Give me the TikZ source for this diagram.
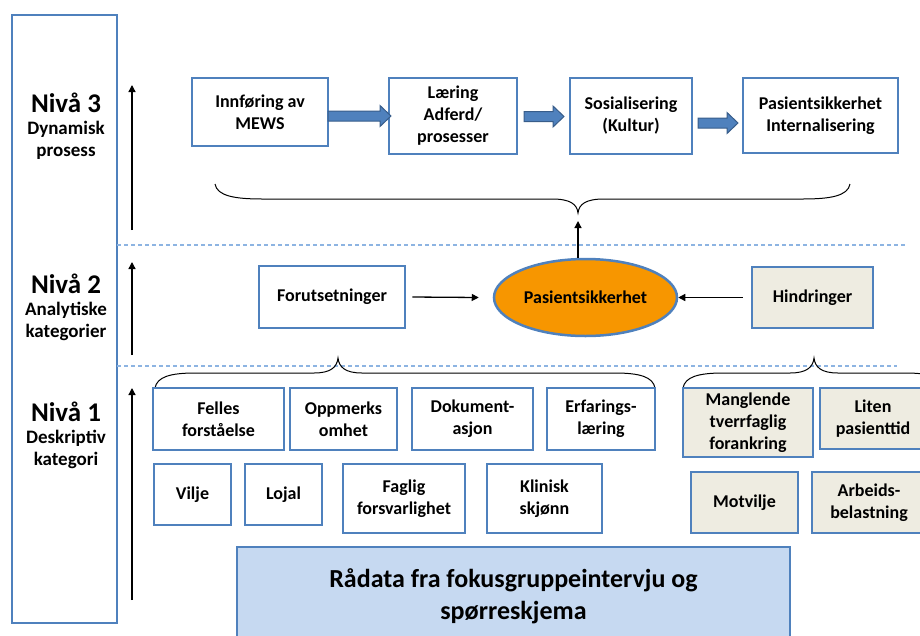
\documentclass[tikz,border=0pt]{standalone}
\usepackage{fontspec}
\setmainfont{Carlito}
\usetikzlibrary{shapes.geometric,arrows.meta,calc}
\definecolor{frame}{RGB}{79,129,189}
\definecolor{arrowfill}{RGB}{79,129,189}
\definecolor{arrowedge}{RGB}{56,93,138}
\definecolor{guide}{RGB}{141,180,226}
\definecolor{tanfill}{RGB}{238,236,225}
\definecolor{core}{RGB}{247,150,0}
\definecolor{rawfill}{RGB}{198,217,241}
\begin{document}
\begin{tikzpicture}[x=1pt,y=-1pt,
  box/.style={draw=frame, line width=2.5pt, fill=white, align=center, inner sep=2pt,
    font=\bfseries\fontsize{18}{22}\selectfont},
  obstacle/.style={box, fill=tanfill},
  arr/.style={line width=1.3pt, -{Triangle[length=7pt,width=7pt]}},
  brace/.style={line width=1pt},
  guideline/.style={draw=guide, line width=1.2pt, dash pattern=on 4pt off 3pt},
  blk/.style={draw=arrowedge, fill=arrowfill, line width=1pt, line join=miter},
  lvl/.style={align=center, font=\bfseries\fontsize{19}{22}\selectfont}]
\useasboundingbox (0,0) rectangle (920,635);
\clip (0,0) rectangle (920,635);

% level column
\node[draw=frame, line width=2.5pt, minimum width=105pt, minimum height=608pt, inner sep=0pt] (col) at (64.5,319) {};
\node[lvl] (n3) at (66,126) {{\fontsize{27}{27}\selectfont Nivå 3}\\[0pt]Dynamisk\\prosess};
\node[lvl] (n2) at (66,307) {{\fontsize{27}{27}\selectfont Nivå 2}\\[0pt]Analytiske\\kategorier};
\node[lvl] (n1) at (66,435) {{\fontsize{27}{27}\selectfont Nivå 1}\\[0pt]Deskriptiv\\kategori};

% level separators
\coordinate (s2a) at (117,245); \coordinate (s2b) at (905,245);
\coordinate (s1a) at (117,366); \coordinate (s1b) at (897,366);
\draw[guideline] (s2a) -- (s2b);
\draw[guideline] (s1a) -- (s1b);

% upward arrows beside the column
\coordinate (u3a) at (132,230); \coordinate (u3b) at (132,85);
\coordinate (u2a) at (132,355); \coordinate (u2b) at (132,262);
\coordinate (u1a) at (132,600); \coordinate (u1b) at (132,388);
\draw[arr] (u3a) -- (u3b);
\draw[arr] (u2a) -- (u2b);
\draw[arr] (u1a) -- (u1b);

% level 3: dynamic process
\node[box, minimum width=136pt, minimum height=68pt] (b1) at (260,112) {Innføring av\\MEWS};
\node[box, minimum width=128pt, minimum height=76pt] (b2) at (453,116) {Læring\\Adferd/\\prosesser};
\node[box, minimum width=122pt, minimum height=76pt] (b3) at (631,116) {Sosialisering\\(Kultur)};
\node[box, minimum width=155pt, minimum height=75pt] (b4) at (820.5,115.5) {Pasientsikkerhet\\Internalisering};
\foreach \xs/\xe/\yy in {328/391/116, 524/564/116.5, 698/738/123}{
  \draw[blk] (\xs,{\yy-5}) -- ({\xe-11},{\yy-5}) -- ({\xe-11},{\yy-10.5}) -- (\xe,\yy)
    -- ({\xe-11},{\yy+10.5}) -- ({\xe-11},{\yy+5}) -- (\xs,{\yy+5}) -- cycle;
}

% brace gathering level 3
\coordinate (tip3) at (578,213);
\draw[brace] (215,184) .. controls (217,196) and (235,199) .. (262,199) -- (552,199)
  .. controls (570,199) and (577,204) .. (tip3)
  .. controls (579,204) and (586,199) .. (604,199) -- (803,199)
  .. controls (830,199) and (848,196) .. (850,184);

% level 2
\node[box, minimum width=146pt, minimum height=62pt] (fo) at (332,297) {Forutsetninger};
\node[ellipse, draw=frame, line width=2.5pt, fill=core, minimum width=183pt, minimum height=77pt,
  inner sep=0pt, font=\bfseries\fontsize{18}{22}\selectfont] (ell) at (585.5,297.5) {Pasientsikkerhet};
\node[obstacle, minimum width=121pt, minimum height=61pt] (hi) at (812.5,297.5) {Hindringer};
\coordinate (up) at (578,221);
\draw[arr] (ell.north -| up) -- (up);
\draw[arr] ([xshift=6pt]fo.east) -- ([xshift=-14pt]ell.west);
\draw[arr] ([xshift=-8pt]hi.west) -- (ell.east);

% braces under level 2
\coordinate (tipf) at (338,358);
\draw[brace] (155,388) .. controls (157,377) and (170,373) .. (195,373) -- (314,373)
  .. controls (331,373) and (337,367) .. (tipf)
  .. controls (339,367) and (345,373) .. (362,373) -- (615,373)
  .. controls (640,373) and (653,377) .. (655,388);
\coordinate (tiph) at (814,358);
\draw[brace] (683,388) .. controls (685,377) and (698,373) .. (723,373) -- (790,373)
  .. controls (807,373) and (813,367) .. (tiph)
  .. controls (815,367) and (821,373) .. (838,373) -- (905,373)
  .. controls (930,373) and (943,377) .. (945,388);

% level 1: prerequisites
\node[box, minimum width=131pt, minimum height=62pt] (f1) at (218.5,419) {Felles\\forståelse};
\node[box, minimum width=107pt, minimum height=62pt] (f2) at (343.5,419) {Oppmerks\\omhet};
\node[box, minimum width=121pt, minimum height=62pt] (f3) at (472.5,419) {Dokument-\\asjon};
\node[box, minimum width=108pt, minimum height=62pt] (f4) at (601,419) {Erfarings-\\læring};
\node[box, minimum width=77pt, minimum height=61pt] (f5) at (192.5,494.5) {Vilje};
\node[box, minimum width=77pt, minimum height=61pt] (f6) at (283.5,494.5) {Lojal};
\node[box, minimum width=122pt, minimum height=69pt] (f7) at (404,498.5) {Faglig\\forsvarlighet};
\node[box, minimum width=115pt, minimum height=69pt] (f8) at (544.5,498.5) {Klinisk\\skjønn};

% level 1: obstacles
\node[obstacle, minimum width=130pt, minimum height=69pt] (h1) at (748,422.5) {Manglende\\tverrfaglig\\forankring};
\node[obstacle, minimum width=106pt, minimum height=61pt] (h2) at (873,418.5) {Liten\\pasienttid};
\node[obstacle, minimum width=107pt, minimum height=61pt] (h3) at (744.5,502.5) {Motvilje};
\node[obstacle, minimum width=114pt, minimum height=61pt] (h4) at (869,502.5) {Arbeids-\\belastning};

% raw data
\node[box, fill=rawfill, minimum width=553pt, minimum height=98pt,
  font=\bfseries\fontsize{26}{32}\selectfont] (raw) at (513.5,596) {Rådata fra fokusgruppeintervju og\\spørreskjema};
\end{tikzpicture}
\end{document}
